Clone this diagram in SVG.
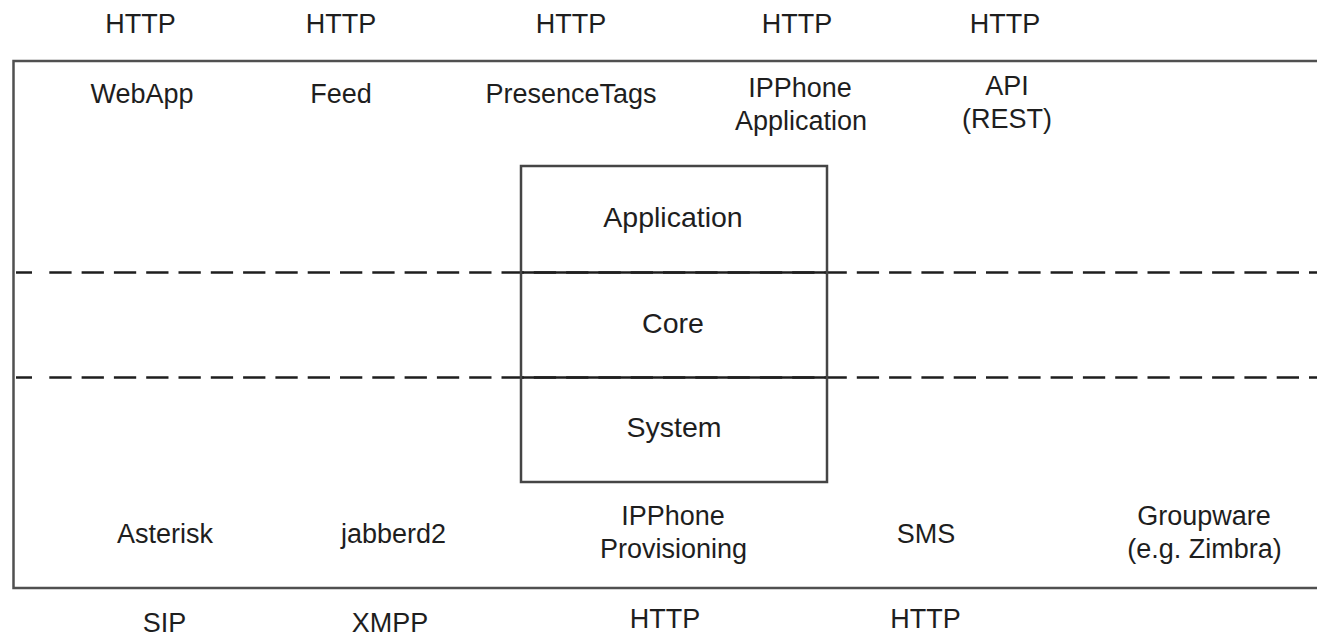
<svg xmlns="http://www.w3.org/2000/svg" width="1317" height="638" viewBox="0 0 1317 638">
<style>
text{font-family:"Liberation Sans",Arial,sans-serif;font-size:27px;fill:#1e1e1e;text-anchor:middle}
.big{font-size:28.5px}
.frame{fill:none;stroke:#505050;stroke-width:2.5}
.box{fill:none;stroke:#454545;stroke-width:2.5}
.dash{fill:none;stroke:#1e1e1e;stroke-width:2.5;stroke-dasharray:22.3 10}
.solid{fill:none;stroke:#1e1e1e;stroke-width:2.5}
</style>
<rect width="1317" height="638" fill="#fff"/>
<g id="frame">
<path class="frame" d="M1317,61 H13.5 V588 H1317"/>
</g>
<g id="layer-lines">
<line class="solid" x1="16" y1="272.5" x2="32" y2="272.5"/>
<line class="dash" x1="49.3" y1="272.5" x2="1317" y2="272.5"/>
<line class="solid" x1="521" y1="272.5" x2="827" y2="272.5"/>
<line class="solid" x1="16" y1="377.5" x2="32" y2="377.5"/>
<line class="dash" x1="49.3" y1="377.5" x2="1317" y2="377.5"/>
<line class="solid" x1="521" y1="377.5" x2="827" y2="377.5"/>
</g>
<g id="core-box">
<rect class="box" x="521" y="166" width="306" height="316"/>
<text class="big" x="673" y="227">Application</text>
<text class="big" x="673" y="333">Core</text>
<text class="big" x="674" y="437">System</text>
</g>
<g id="protocols-top">
<text x="140.5" y="33">HTTP</text>
<text x="341" y="33">HTTP</text>
<text x="571" y="33">HTTP</text>
<text x="797" y="33">HTTP</text>
<text x="1005" y="33">HTTP</text>
</g>
<g id="webapp"><text x="142" y="103">WebApp</text></g>
<g id="feed"><text x="341" y="103">Feed</text></g>
<g id="presencetags"><text x="571" y="103">PresenceTags</text></g>
<g id="ipphone-app"><text x="800" y="96.5">IPPhone</text><text x="801" y="129.5">Application</text></g>
<g id="api"><text x="1007" y="95">API</text><text x="1007" y="128">(REST)</text></g>
<g id="asterisk"><text x="165" y="543">Asterisk</text></g>
<g id="jabberd2"><text x="393.5" y="543">jabberd2</text></g>
<g id="ipphone-prov"><text x="673" y="525">IPPhone</text><text x="673.5" y="558">Provisioning</text></g>
<g id="sms"><text x="926" y="543">SMS</text></g>
<g id="groupware"><text x="1204" y="525">Groupware</text><text x="1204.5" y="558">(e.g. Zimbra)</text></g>
<g id="protocols-bottom">
<text x="164.5" y="632">SIP</text>
<text x="390" y="632">XMPP</text>
<text x="665" y="628">HTTP</text>
<text x="925.5" y="628">HTTP</text>
</g>
</svg>
